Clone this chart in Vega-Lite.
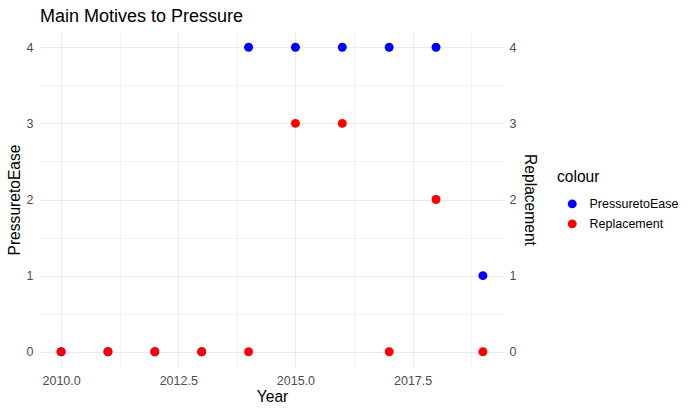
{
  "$schema": "https://vega.github.io/schema/vega-lite/v6.json",
  "autosize": "none",
  "width": 464,
  "height": 335,
  "padding": {"left": 40, "top": 32, "right": 184, "bottom": 46},
  "background": "white",
  "config": {
    "view": {"stroke": null},
    "font": "Liberation Sans",
    "axis": {"domain": false, "ticks": false, "gridColor": "#EBEBEB", "labelColor": "#4D4D4D", "labelFontSize": 12.5, "titleFontSize": 15.6, "titleFontWeight": "normal", "titleColor": "#000000", "labelFont": "Liberation Sans", "titleFont": "Liberation Sans"}
  },
  "title": {"text": "Main Motives to Pressure", "anchor": "start", "frame": "group", "fontSize": 18, "fontWeight": "normal", "font": "Liberation Sans", "color": "#000000", "offset": 6},
  "data": {"values": [
    {"Year": 2010, "series": "PressuretoEase", "value": 0},
    {"Year": 2011, "series": "PressuretoEase", "value": 0},
    {"Year": 2012, "series": "PressuretoEase", "value": 0},
    {"Year": 2013, "series": "PressuretoEase", "value": 0},
    {"Year": 2014, "series": "PressuretoEase", "value": 4},
    {"Year": 2015, "series": "PressuretoEase", "value": 4},
    {"Year": 2016, "series": "PressuretoEase", "value": 4},
    {"Year": 2017, "series": "PressuretoEase", "value": 4},
    {"Year": 2018, "series": "PressuretoEase", "value": 4},
    {"Year": 2019, "series": "PressuretoEase", "value": 1},
    {"Year": 2010, "series": "Replacement", "value": 0},
    {"Year": 2011, "series": "Replacement", "value": 0},
    {"Year": 2012, "series": "Replacement", "value": 0},
    {"Year": 2013, "series": "Replacement", "value": 0},
    {"Year": 2014, "series": "Replacement", "value": 0},
    {"Year": 2015, "series": "Replacement", "value": 3},
    {"Year": 2016, "series": "Replacement", "value": 3},
    {"Year": 2017, "series": "Replacement", "value": 0},
    {"Year": 2018, "series": "Replacement", "value": 2},
    {"Year": 2019, "series": "Replacement", "value": 0}
  ]},
  "layer": [
    {
      "mark": {"type": "point", "opacity": 0},
      "encoding": {
        "x": {"field": "Year", "type": "quantitative", "scale": {"domain": [2009.55, 2019.45], "nice": false, "zero": false},
              "axis": {"orient": "bottom", "values": [2011.25, 2013.75, 2016.25, 2018.75], "labels": false, "title": null, "grid": true, "gridWidth": 0.6}},
        "y": {"field": "value", "type": "quantitative", "scale": {"domain": [-0.2, 4.2], "nice": false, "zero": false},
              "axis": {"orient": "left", "values": [0.5, 1.5, 2.5, 3.5], "labels": false, "title": null, "grid": true, "gridWidth": 0.6}}
      }
    },
    {
      "mark": {"type": "point", "filled": true, "opacity": 1, "size": 80},
      "encoding": {
        "x": {"field": "Year", "type": "quantitative",
              "axis": {"orient": "bottom", "values": [2010, 2012.5, 2015, 2017.5], "format": ".1f", "title": "Year", "grid": true, "gridWidth": 1.1, "labelPadding": 7, "titlePadding": 3}},
        "y": {"field": "value", "type": "quantitative",
              "axis": {"orient": "left", "values": [0, 1, 2, 3, 4], "title": "PressuretoEase", "grid": true, "gridWidth": 1.1, "labelPadding": 7, "titlePadding": 4}},
        "color": {"field": "series", "type": "nominal", "scale": {"domain": ["PressuretoEase", "Replacement"], "range": ["#0000FF", "#FF0000"]},
                  "legend": {"title": "colour", "orient": "none", "legendX": 517, "legendY": 138, "titleFontSize": 15.6, "titleFontWeight": "normal", "titleColor": "#000000", "labelFontSize": 12.5, "labelColor": "#000000", "symbolType": "circle", "symbolSize": 80, "symbolOffset": 9, "rowPadding": 7, "titlePadding": 12, "labelOffset": 11, "font": "Liberation Sans"}}
      }
    },
    {
      "mark": {"type": "point", "opacity": 0},
      "encoding": {
        "x": {"field": "Year", "type": "quantitative", "axis": null},
        "y": {"field": "value", "type": "quantitative",
              "axis": {"orient": "right", "values": [0, 1, 2, 3, 4], "title": "Replacement", "grid": false, "labelPadding": 5, "titlePadding": 6}}
      }
    }
  ],
  "resolve": {"axis": {"x": "independent", "y": "independent"}}
}
